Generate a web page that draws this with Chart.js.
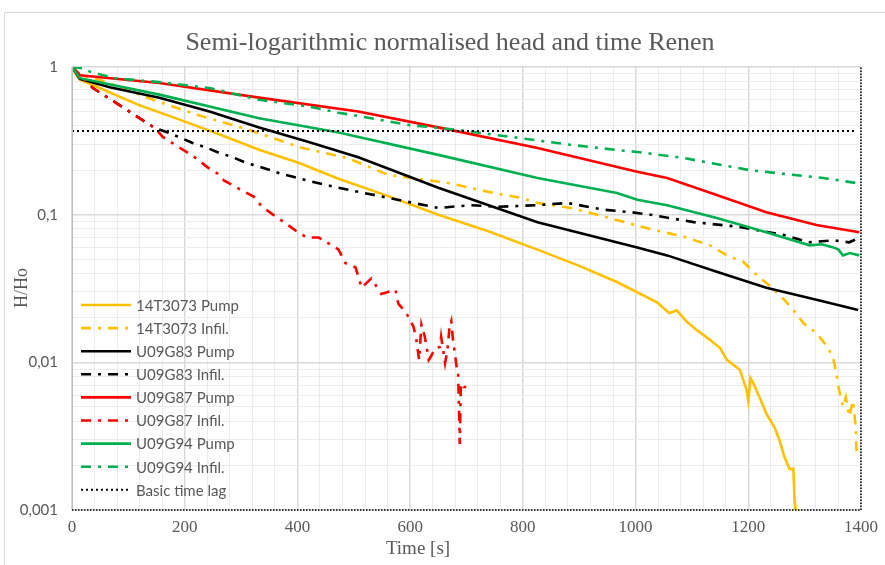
<!DOCTYPE html>
<html>
<head>
<meta charset="utf-8">
<script src="https://cdn.jsdelivr.net/npm/chart.js@4"></script>
<style>
    html, body { margin: 0; padding: 0; background: #fff; }
    #wrap { position: relative; width: 885px; height: 565px; }
</style>
</head>
<body>
<div id="wrap"><canvas id="head-chart" width="885" height="565"></canvas></div>
<script>
// readings: time [s] and normalised head H/Ho
const pump14T3073Time = [0, 8, 14, 49, 120, 191, 261, 332, 403, 473, 560, 650, 740, 826, 900, 967, 1038, 1060, 1073, 1091, 1109, 1132, 1150, 1162, 1185, 1197, 1200, 1204, 1209, 1220, 1232, 1247, 1255, 1264, 1273, 1280, 1282, 1285];
const pump14T3073Head = [1, 0.88, 0.82, 0.72, 0.55, 0.44, 0.35, 0.275, 0.224, 0.175, 0.134, 0.1, 0.077, 0.058, 0.045, 0.035, 0.0255, 0.0215, 0.0225, 0.0188, 0.0165, 0.0142, 0.0125, 0.0104, 0.0089, 0.0065, 0.0055, 0.0078, 0.0072, 0.0058, 0.0045, 0.0036, 0.003, 0.0023, 0.0019, 0.0019, 0.0012, 0.0009];

const infil14T3073Time = [0, 14, 49, 155, 226, 314, 403, 491, 561, 667, 738, 796, 826, 885, 932, 985, 1038, 1085, 1132, 1162, 1191, 1215, 1238, 1262, 1280, 1298, 1321, 1342, 1351, 1356, 1361, 1368, 1373, 1379, 1386, 1391, 1392];
const infil14T3073Head = [1, 0.88, 0.82, 0.58, 0.47, 0.375, 0.287, 0.24, 0.186, 0.164, 0.143, 0.13, 0.12, 0.111, 0.1, 0.088, 0.078, 0.071, 0.062, 0.053, 0.048, 0.039, 0.033, 0.027, 0.0226, 0.0184, 0.0158, 0.0125, 0.0105, 0.0085, 0.0065, 0.005, 0.0058, 0.0043, 0.0055, 0.0035, 0.0025];

const pumpU09G83Time = [0, 14, 67, 155, 244, 332, 420, 508, 650, 826, 1003, 1056, 1144, 1232, 1321, 1395];
const pumpU09G83Head = [1, 0.83, 0.73, 0.62, 0.5, 0.39, 0.31, 0.245, 0.152, 0.089, 0.06, 0.053, 0.041, 0.032, 0.0265, 0.0226];

const infilU09G83Time = [0, 37, 85, 132, 147, 173, 194, 214, 240, 261, 284, 309, 328, 353, 373, 394, 432, 473, 561, 650, 708, 756, 826, 879, 944, 991, 1026, 1103, 1180, 1262, 1309, 1351, 1379, 1395];
const infilU09G83Head = [1, 0.72, 0.55, 0.42, 0.386, 0.357, 0.33, 0.306, 0.283, 0.262, 0.246, 0.224, 0.214, 0.2, 0.188, 0.18, 0.165, 0.152, 0.13, 0.111, 0.116, 0.113, 0.116, 0.12, 0.108, 0.104, 0.1, 0.089, 0.083, 0.073, 0.065, 0.067, 0.065, 0.069];

const pumpU09G87Time = [0, 14, 155, 332, 508, 650, 826, 1003, 1056, 1144, 1232, 1321, 1397];
const pumpU09G87Head = [1, 0.88, 0.78, 0.62, 0.5, 0.39, 0.283, 0.195, 0.177, 0.136, 0.104, 0.085, 0.076];

const infilU09G87Time = [0, 37, 85, 132, 147, 161, 203, 221, 240, 258, 270, 288, 300, 323, 337, 376, 403, 417, 438, 455, 473, 485, 503, 514, 531, 549, 574, 579, 593, 606, 611, 616, 620, 626, 633, 637, 645, 653, 655, 662, 666, 670, 673, 676, 680, 683, 685, 687, 688, 690, 695, 703];
const infilU09G87Head = [1, 0.72, 0.55, 0.42, 0.386, 0.336, 0.266, 0.24, 0.21, 0.19, 0.17, 0.156, 0.147, 0.132, 0.113, 0.089, 0.075, 0.07, 0.07, 0.064, 0.058, 0.047, 0.044, 0.032, 0.037, 0.029, 0.031, 0.025, 0.0216, 0.0174, 0.0142, 0.0104, 0.018, 0.0149, 0.0104, 0.011, 0.0125, 0.0127, 0.0149, 0.0099, 0.012, 0.0174, 0.019, 0.0142, 0.011, 0.009, 0.0089, 0.0043, 0.0028, 0.0072, 0.0068, 0.0068];

const pumpU09G94Time = [0, 14, 155, 332, 473, 650, 826, 967, 1003, 1056, 1144, 1232, 1309, 1330, 1351, 1360, 1368, 1380, 1397];
const pumpU09G94Head = [1, 0.84, 0.65, 0.45, 0.36, 0.254, 0.177, 0.14, 0.126, 0.116, 0.095, 0.076, 0.062, 0.063, 0.06, 0.058, 0.053, 0.055, 0.053];

const infilU09G94Time = [0, 20, 32, 55, 76, 155, 244, 332, 420, 473, 503, 597, 685, 779, 885, 967, 1003, 1085, 1203, 1333, 1391];
const infilU09G94Head = [1, 0.98, 0.93, 0.88, 0.84, 0.79, 0.72, 0.6, 0.54, 0.49, 0.47, 0.405, 0.375, 0.336, 0.297, 0.274, 0.266, 0.242, 0.2, 0.177, 0.164];

const timeLagTime = [0, 1390];
const timeLagHead = [0.368, 0.368];

const xTickLabels = [0, 200, 400, 600, 800, 1000, 1200, 1400];
const yDecades = [0.001, 0.01, 0.1, 1];

const DASH_DOT = [10, 7, 3, 7];
const GREY_TEXT = '#595959';

function points(times, heads) {
    return times.map((t, i) => ({ x: t, y: heads[i] }));
}

const seriesDefs = [
    { label: '14T3073 Pump', t: pump14T3073Time, h: pump14T3073Head, color: '#FFC000', dash: [] },
    { label: '14T3073 Infil.', t: infil14T3073Time, h: infil14T3073Head, color: '#FFC000', dash: DASH_DOT },
    { label: 'U09G83 Pump', t: pumpU09G83Time, h: pumpU09G83Head, color: '#000000', dash: [] },
    { label: 'U09G83 Infil.', t: infilU09G83Time, h: infilU09G83Head, color: '#000000', dash: DASH_DOT },
    { label: 'U09G87 Pump', t: pumpU09G87Time, h: pumpU09G87Head, color: '#FF0000', dash: [] },
    { label: 'U09G87 Infil.', t: infilU09G87Time, h: infilU09G87Head, color: '#FF0000', dash: DASH_DOT },
    { label: 'U09G94 Pump', t: pumpU09G94Time, h: pumpU09G94Head, color: '#00B050', dash: [] },
    { label: 'U09G94 Infil.', t: infilU09G94Time, h: infilU09G94Head, color: '#00B050', dash: DASH_DOT },
    { label: 'Basic time lag', t: timeLagTime, h: timeLagHead, color: '#000000', dash: [2, 3], width: 2 }
];

// log grid: 1..9 in every decade
const yGridValues = [];
yDecades.forEach(d => {
    if (d >= 1) { yGridValues.push(d); return; }
    for (let m = 1; m <= 9; m++) yGridValues.push(+(d * m).toPrecision(3));
});

function isDecade(v) {
    return yDecades.some(d => Math.abs(d - v) < d * 1e-6);
}

// title, axis titles, dotted frame and in-plot legend
const decorPlugin = {
    id: 'decor',
    beforeDraw(chart) {
        const ctx = chart.ctx;
        ctx.save();
        ctx.fillStyle = '#ffffff';
        ctx.fillRect(0, 0, chart.width, chart.height);
        ctx.strokeStyle = '#d9d9d9';
        ctx.lineWidth = 1;
        ctx.strokeRect(4.5, 12.5, chart.width + 10, chart.height + 10);
        ctx.restore();
    },
    afterDraw(chart) {
        const ctx = chart.ctx;
        const a = chart.chartArea;
        ctx.save();

        ctx.fillStyle = GREY_TEXT;
        ctx.textAlign = 'center';
        ctx.textBaseline = 'middle';
        ctx.font = '26px "Liberation Serif", serif';
        ctx.fillText('Semi-logarithmic normalised head and time Renen', 450, 43);

        ctx.font = '19px "Liberation Serif", serif';
        ctx.fillText('Time [s]', 418, 549);

        ctx.save();
        ctx.translate(22, 288);
        ctx.rotate(-Math.PI / 2);
        ctx.font = '18px "Liberation Serif", serif';
        ctx.fillText('H/Ho', 0, 0);
        ctx.restore();

        // left axis line
        ctx.strokeStyle = '#bfbfbf';
        ctx.lineWidth = 1;
        ctx.beginPath();
        ctx.moveTo(a.left + 0.5, a.top);
        ctx.lineTo(a.left + 0.5, a.bottom);
        ctx.stroke();

        // dotted right and bottom frame
        ctx.strokeStyle = '#000000';
        ctx.lineWidth = 1.5;
        ctx.setLineDash([1.5, 1.5]);
        ctx.beginPath();
        ctx.moveTo(a.left, a.bottom);
        ctx.lineTo(a.right, a.bottom);
        ctx.lineTo(a.right, a.top);
        ctx.stroke();
        ctx.setLineDash([]);

        // legend
        ctx.textAlign = 'left';
        ctx.font = '15px Lato, "Liberation Sans", sans-serif';
        chart.data.datasets.forEach((ds, i) => {
            const y = 305 + i * 23.1;
            ctx.strokeStyle = ds.borderColor;
            ctx.lineWidth = ds.borderWidth;
            ctx.setLineDash(ds.borderDash);
            ctx.beginPath();
            ctx.moveTo(81, y);
            ctx.lineTo(131, y);
            ctx.stroke();
            ctx.setLineDash([]);
            ctx.fillStyle = GREY_TEXT;
            ctx.fillText(ds.label, 136, y + 1);
        });
        ctx.restore();
    }
};

new Chart(document.getElementById('head-chart'), {
    type: 'line',
    data: {
        datasets: seriesDefs.map((s, i) => ({
            label: s.label,
            data: points(s.t, s.h),
            borderColor: s.color,
            backgroundColor: s.color,
            borderWidth: s.width || 2.6,
            borderDash: s.dash,
            pointRadius: 0,
            tension: 0,
            fill: false,
            order: seriesDefs.length - i
        }))
    },
    options: {
        responsive: false,
        animation: false,
        devicePixelRatio: 1,
        layout: { padding: { top: 67, right: 20, left: 0, bottom: 0 } },
        plugins: {
            legend: { display: false },
            title: { display: false },
            tooltip: { enabled: false }
        },
        scales: {
            x: {
                type: 'linear',
                min: 0,
                max: 1400,
                afterFit: scale => { scale.height = 55; },
                afterBuildTicks: scale => {
                    const ticks = [];
                    for (let v = 0; v <= 1400; v += 40) ticks.push({ value: v });
                    scale.ticks = ticks;
                },
                ticks: {
                    autoSkip: false,
                    maxRotation: 0,
                    padding: 7,
                    color: GREY_TEXT,
                    font: { family: '"Liberation Serif", serif', size: 17 },
                    callback: v => xTickLabels.includes(v) ? String(v) : ''
                },
                grid: {
                    drawTicks: false,
                    color: c => xTickLabels.includes(c.tick.value) ? '#d9d9d9' : '#ececec',
                    lineWidth: c => xTickLabels.includes(c.tick.value) ? 1.5 : 1
                },
                border: { display: false }
            },
            y: {
                type: 'logarithmic',
                min: 0.001,
                max: 1,
                afterFit: scale => { scale.width = 72; },
                afterBuildTicks: scale => {
                    scale.ticks = yGridValues.map(v => ({ value: v }));
                },
                ticks: {
                    autoSkip: false,
                    padding: 14,
                    color: GREY_TEXT,
                    font: { family: 'Lato, "Liberation Sans", sans-serif', size: 15 },
                    callback: v => isDecade(v) ? String(v).replace('.', ',') : ''
                },
                grid: {
                    drawTicks: false,
                    color: c => isDecade(c.tick.value) ? '#d9d9d9' : '#ececec',
                    lineWidth: c => isDecade(c.tick.value) ? 1.5 : 1
                },
                border: { display: false }
            }
        }
    },
    plugins: [decorPlugin]
});
</script>
</body>
</html>
